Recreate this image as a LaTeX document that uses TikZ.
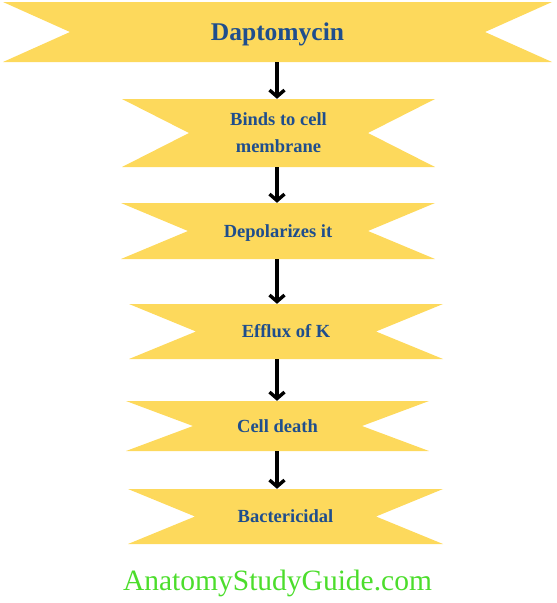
\documentclass[tikz,border=0pt]{standalone}
\usepackage{fontspec}
\setmainfont{Liberation Serif}
\usetikzlibrary{arrows.meta}
\definecolor{bannerfill}{HTML}{FDD95C}
\definecolor{textblue}{HTML}{1F4E8D}
\definecolor{sitegreen}{HTML}{4CDD2C}
\tikzset{
  banner/.style n args={2}{rectangle, inner sep=0pt, minimum width=#1, minimum height=#2,
    text=textblue, font=\bfseries\fontsize{18.5}{27}\selectfont, align=center,
    path picture={\fill[bannerfill] (path picture bounding box.south west) -- (path picture bounding box.south east)
      -- ([xshift=-67pt]path picture bounding box.east) -- (path picture bounding box.north east)
      -- (path picture bounding box.north west) -- ([xshift=67pt]path picture bounding box.west) -- cycle;}},
  oneline/.style={text height=12.3pt, text depth=0pt},
  arr/.style={line width=3.4pt, -{Straight Barb[length=6.5pt,width=15pt]}}
}
\begin{document}
\begin{tikzpicture}[x=1pt,y=-1pt]
\useasboundingbox (0,0) rectangle (557,603);
\node[banner={549pt}{60pt}, oneline, text height=17pt, font=\bfseries\fontsize{25.5}{30}\selectfont] (n1) at (277.5,32) {Daptomycin};
\node[banner={313pt}{68pt}] (n2) at (278.5,133) {Binds to cell\\membrane};
\node[banner={314pt}{56pt}, oneline] (n3) at (278,231) {Depolarizes it};
\node[banner={314pt}{55pt}, oneline] (n4) at (286,331.5) {Efflux of K};
\node[banner={303pt}{50pt}, oneline] (n5) at (277.5,426) {Cell death};
\node[banner={315pt}{55pt}, oneline] (n6) at (285.5,516.5) {Bactericidal};
\coordinate (ax) at (277,0);
\draw[arr] (n1.south -| ax) -- (n2.north -| ax);
\draw[arr] (n2.south -| ax) -- (n3.north -| ax);
\draw[arr] (n3.south -| ax) -- (n4.north -| ax);
\draw[arr] (n4.south -| ax) -- (n5.north -| ax);
\draw[arr] (n5.south -| ax) -- (n6.north -| ax);
\node[anchor=base, text=sitegreen, font=\fontsize{29.5}{34}\selectfont, inner sep=0pt] (foot) at (277.5,590) {AnatomyStudyGuide.com};
\end{tikzpicture}
\end{document}
